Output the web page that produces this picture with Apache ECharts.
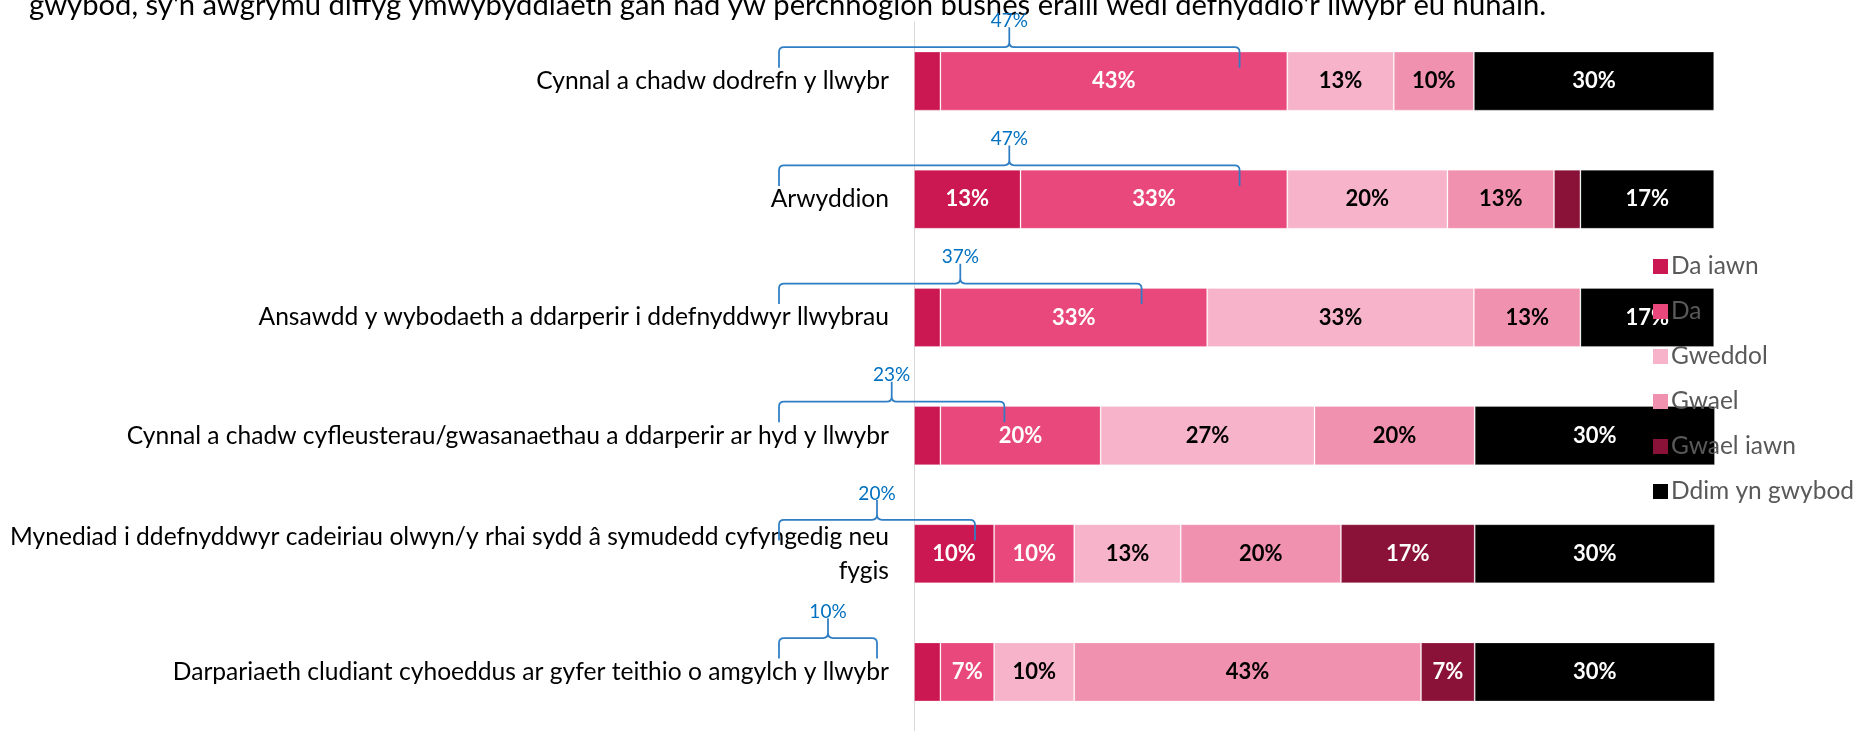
<!DOCTYPE html>
<html>
<head>
<meta charset="utf-8">
<script src="https://cdn.jsdelivr.net/npm/echarts@6/dist/echarts.min.js"></script>
<style>
html,body{margin:0;padding:0;background:#fff;}
#chart{width:1857px;height:731px;}
</style>
</head>
<body>
<div id="chart"></div>
<script>
const categories = [
  'Cynnal a chadw dodrefn y llwybr',
  'Arwyddion',
  'Ansawdd y wybodaeth a ddarperir i ddefnyddwyr llwybrau',
  'Cynnal a chadw cyfleusterau/gwasanaethau a ddarperir ar hyd y llwybr',
  'Mynediad i ddefnyddwyr cadeiriau olwyn/y rhai sydd â symudedd cyfyngedig neu\nfygis',
  'Darpariaeth cludiant cyhoeddus ar gyfer teithio o amgylch y llwybr'
];
const seriesNames = ['Da iawn', 'Da', 'Gweddol', 'Gwael', 'Gwael iawn', 'Ddim yn gwybod'];
const daIawn    = [3.3, 13.3, 3.3, 3.3, 10, 3.3];
const da        = [43.3, 33.3, 33.3, 20, 10, 6.7];
const gweddol   = [13.3, 20, 33.3, 26.7, 13.3, 10];
const gwael     = [10, 13.3, 13.3, 20, 20, 43.3];
const gwaelIawn = [0, 3.3, 0, 0, 16.7, 6.7];
const ddim      = [30, 16.7, 16.7, 30, 30, 30];
const bracketTotals = [47, 47, 37, 23, 20, 10];
const titleText = "gwybod, sy'n awgrymu diffyg ymwybyddiaeth gan nad yw perchnogion busnes eraill wedi defnyddio'r llwybr eu hunain.";

const seriesData = [daIawn, da, gweddol, gwael, gwaelIawn, ddim];
const colors = ['#CC1852', '#E8487C', '#F6B3C9', '#F091B0', '#8A1238', '#000000'];
const labelColors = ['#fff', '#fff', '#000', '#000', '#fff', '#fff'];
const FONT = 'Lato';

const chart = echarts.init(document.getElementById('chart'), null, {renderer: 'canvas'});

const barSeries = seriesNames.map((name, i) => ({
  name: name,
  type: 'bar',
  stack: 'total',
  xAxisIndex: 0,
  yAxisIndex: 0,
  barWidth: '50%',
  data: seriesData[i],
  itemStyle: {color: colors[i], borderColor: 'rgba(255,255,255,0.25)', borderWidth: 1},
  label: {
    show: true,
    position: 'inside',
    color: labelColors[i],
    fontFamily: FONT,
    fontWeight: 'bold',
    fontSize: 22,
    formatter: p => (p.value >= 5 ? Math.round(p.value) + '%' : '')
  },
  emphasis: {disabled: true},
  animation: false
}));

const bracketSeries = {
  type: 'custom',
  xAxisIndex: 1,
  yAxisIndex: 1,
  z: 10,
  data: bracketTotals.map((v, i) => [i, v]),
  encode: {x: 1, y: 0},
  renderItem: function (params, api) {
    const idx = api.value(0);
    const v = api.value(1);
    const p0 = api.coord([0, idx]);
    const p1 = api.coord([v, idx]);
    const band = api.size([0, 1])[1];
    const yc = p0[1];
    const x0 = p0[0], x1 = p1[0], xm = (x0 + x1) / 2;
    const yLine = yc - band * 0.287;
    const yEnd = yc - band * 0.113;
    const yPeak = yc - band * 0.455;
    const yLabel = yc - band * 0.51;
    const r = 5;
    const d = [
      'M', x0, yEnd,
      'L', x0, yLine + r,
      'Q', x0, yLine, x0 + r, yLine,
      'L', xm - r, yLine,
      'Q', xm, yLine, xm, yLine - r,
      'L', xm, yPeak,
      'M', xm, yLine - r,
      'Q', xm, yLine, xm + r, yLine,
      'L', x1 - r, yLine,
      'Q', x1, yLine, x1, yLine + r,
      'L', x1, yEnd
    ].join(' ');
    return {
      type: 'group',
      children: [
        {type: 'path', shape: {pathData: d}, style: {stroke: '#2F7EC4', fill: 'none', lineWidth: 1.75}},
        {type: 'text', style: {text: Math.round(v) + '%', x: xm, y: yLabel, align: 'center', verticalAlign: 'middle', fill: '#0070C0', font: '19px ' + FONT}}
      ]
    };
  },
  animation: false
};

const option = {
  animation: false,
  title: {
    text: titleText,
    left: 24,
    top: -14,
    textStyle: {fontFamily: FONT, fontSize: 29.2, fontWeight: 'normal', color: '#000'}
  },
  legend: {
    orient: 'vertical',
    left: 1648,
    top: 249,
    itemWidth: 15,
    itemHeight: 15,
    itemGap: 20,
    itemStyle: {borderWidth: 0},
    icon: 'rect',
    selectedMode: false,
    textStyle: {fontFamily: FONT, fontSize: 24.5, color: '#595959', lineHeight: 20, padding: [0, 0, 0, -2]},
    data: seriesNames
  },
  grid: [
    {left: 914, width: 801, top: 22, height: 715, containLabel: false},
    {left: 779, width: 980, top: 22, height: 715, containLabel: false}
  ],
  xAxis: [
    {type: 'value', gridIndex: 0, min: 0, max: 100, show: false},
    {type: 'value', gridIndex: 1, min: 0, max: 100, show: false}
  ],
  yAxis: [
    {
      type: 'category', gridIndex: 0, inverse: true, data: categories,
      axisLine: {show: true, lineStyle: {color: '#D9D9D9', width: 1}},
      axisTick: {show: false},
      axisLabel: {margin: 25, fontFamily: FONT, fontSize: 24.6, color: '#000', align: 'right', lineHeight: 34}
    },
    {type: 'category', gridIndex: 1, inverse: true, data: categories, show: false}
  ],
  series: barSeries.concat([bracketSeries])
};
chart.setOption(option);
</script>
</body>
</html>
